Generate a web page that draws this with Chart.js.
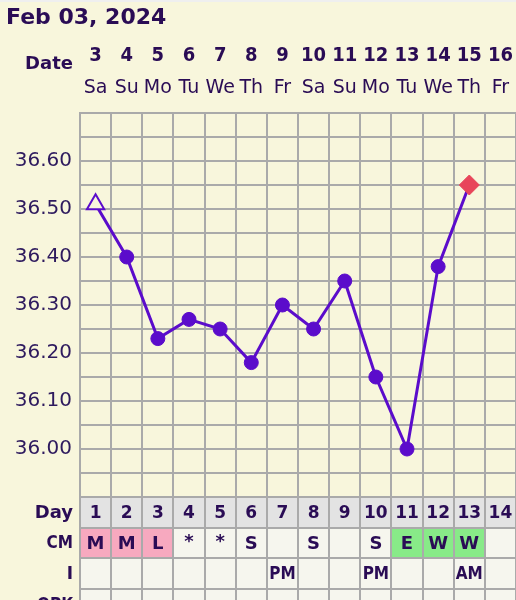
<!DOCTYPE html>
<html>
<head>
<meta charset="utf-8">
<script src="https://cdn.jsdelivr.net/npm/chart.js@4.4.1/dist/chart.umd.min.js"></script>
<style>
  html, body { margin: 0; padding: 0; background: #f8f6dc; }
  canvas { display: block; }
</style>
</head>
<body>
<canvas id="chart" width="516" height="600"></canvas>
<script>
// chart data
const chartTitle = "Feb 03, 2024";
const dates = [3, 4, 5, 6, 7, 8, 9, 10, 11, 12, 13, 14, 15, 16];
const weekdays = ["Sa", "Su", "Mo", "Tu", "We", "Th", "Fr", "Sa", "Su", "Mo", "Tu", "We", "Th", "Fr"];
const cycleDays = ["1", "2", "3", "4", "5", "6", "7", "8", "9", "10", "11", "12", "13", "14"];
const temps = [36.51, 36.40, 36.23, 36.27, 36.25, 36.18, 36.30, 36.25, 36.35, 36.15, 36.00, 36.38, 36.55, null];
const cervicalMucus = ["M", "M", "L", "*", "*", "S", "", "S", "", "S", "E", "W", "W", ""];
const intercourse = ["", "", "", "", "", "", "PM", "", "", "PM", "", "", "AM", ""];
const opk = ["", "", "", "", "", "", "", "", "", "", "", "", "", ""];
const tempMin = 35.90;
const tempMax = 36.70;

const INK = "#2a0c55";
const CREAM = "#f8f6dc";
const GRID = "#aaaaaa";
const LINE = "#5b0ccb";
const CELL = "#f6f6ee";
const FONT = "'DejaVu Sans', Verdana, sans-serif";
const FONT_NARROW = "'DejaVu Sans Condensed', 'DejaVu Sans', sans-serif";

function cmColor(value) {
    if (value === "M" || value === "L") {
        return "#f7a9bf";
    }
    if (value === "E" || value === "W") {
        return "#88ea88";
    }
    return CELL;
}

function text(ctx, str, x, y, font, align) {
    ctx.font = font;
    ctx.textAlign = align || "center";
    ctx.textBaseline = "middle";
    ctx.fillStyle = INK;
    ctx.fillText(str, x, y);
}

const tablePlugin = {
    id: "fertilityTable",
    beforeDraw(chart) {
        const ctx = chart.ctx;
        ctx.save();
        ctx.fillStyle = CREAM;
        ctx.fillRect(0, 0, chart.width, chart.height);
        ctx.fillStyle = "#efefef";
        ctx.fillRect(0, 0, chart.width, 2);
        ctx.restore();
    },
    afterDraw(chart) {
        const ctx = chart.ctx;
        const xs = chart.scales.x;
        const area = chart.chartArea;
        const colW = xs.getPixelForValue(1) - xs.getPixelForValue(0);
        const rows = [
            { label: "Day", values: cycleDays, top: area.bottom, h: 31, fill: () => "#e3e3e3", font: "bold 17px " + FONT, labelFont: "bold 18px " + FONT },
            { label: "CM", values: cervicalMucus, top: area.bottom + 31, h: 30, fill: cmColor, font: "bold 18px " + FONT, labelFont: "bold 17px " + FONT_NARROW },
            { label: "I", values: intercourse, top: area.bottom + 61, h: 31, fill: () => CELL, font: "bold 17px " + FONT_NARROW, labelFont: "bold 17px " + FONT },
            { label: "OPK", values: opk, top: area.bottom + 92, h: 31, fill: () => CELL, font: "bold 16px " + FONT, labelFont: "bold 17px " + FONT_NARROW },
        ];
        ctx.save();
        // cell backgrounds
        rows.forEach((row) => {
            row.values.forEach((v, i) => {
                const cx = xs.getPixelForValue(i);
                ctx.fillStyle = row.fill(v);
                ctx.fillRect(cx - colW / 2, row.top, colW, row.h);
            });
        });
        // cell borders
        ctx.strokeStyle = GRID;
        ctx.lineWidth = 2;
        ctx.beginPath();
        rows.forEach((row) => {
            ctx.moveTo(area.left, row.top);
            ctx.lineTo(area.right, row.top);
        });
        for (let i = 0; i <= cycleDays.length; i++) {
            const x = Math.round(xs.getPixelForValue(i) - colW / 2);
            ctx.moveTo(x, area.bottom);
            ctx.lineTo(x, chart.height);
        }
        ctx.stroke();
        // cell texts
        rows.forEach((row) => {
            const cy = row.top + row.h / 2 + 1;
            text(ctx, row.label, 73, cy, row.labelFont, "right");
            row.values.forEach((v, i) => {
                if (v) {
                    text(ctx, v, xs.getPixelForValue(i), v === "*" ? cy - 2 : cy, row.font);
                }
            });
        });
        // header
        text(ctx, chartTitle, 6, 18, "bold 22px " + FONT, "left");
        text(ctx, "Date", 73, 64, "bold 18px " + FONT, "right");
        dates.forEach((d, i) => {
            const cx = xs.getPixelForValue(i);
            text(ctx, String(d), cx, 56, "bold 20px " + FONT_NARROW);
            text(ctx, weekdays[i], cx, 88, "19px " + FONT);
        });
        ctx.restore();
    },
};

new Chart(document.getElementById("chart"), {
    type: "line",
    data: {
        labels: cycleDays,
        datasets: [{
            data: temps,
            borderColor: LINE,
            borderWidth: 3,
            tension: 0,
            pointStyle: (c) => (c.dataIndex === 0 ? "triangle" : c.dataIndex === 12 ? "rectRot" : "circle"),
            pointRadius: (c) => (c.dataIndex === 0 ? 10 : c.dataIndex === 12 ? 10 : 7),
            pointBackgroundColor: (c) => (c.dataIndex === 0 ? CREAM : c.dataIndex === 12 ? "#e8455a" : LINE),
            pointBorderColor: (c) => (c.dataIndex === 12 ? "#e8455a" : LINE),
            pointBorderWidth: (c) => (c.dataIndex === 0 ? 2 : 1),
        }],
    },
    options: {
        responsive: false,
        animation: false,
        events: [],
        layout: { autoPadding: false, padding: { top: 113, bottom: 103, left: 0, right: 0 } },
        plugins: { legend: { display: false }, tooltip: { enabled: false } },
        scales: {
            x: {
                type: "category",
                offset: true,
                grid: { offset: true, color: GRID, lineWidth: 2, drawTicks: false },
                border: { display: false },
                ticks: { display: false },
                afterFit: (s) => { s.height = 0; },
            },
            y: {
                min: tempMin,
                max: tempMax,
                grid: { color: GRID, lineWidth: 2, drawTicks: false },
                border: { color: GRID, width: 2 },
                ticks: {
                    stepSize: 0.05,
                    autoSkip: false,
                    padding: 8,
                    color: "#2e1a5e",
                    font: { family: "'DejaVu Sans'", size: 20 },
                    callback: (v) => {
                        const c = Math.round(v * 100);
                        return c % 10 === 0 && c >= 3600 && c <= 3660 ? (c / 100).toFixed(2) : "";
                    },
                },
                afterFit: (s) => { s.width = 80; },
            },
        },
    },
    plugins: [tablePlugin],
});
</script>
</body>
</html>
